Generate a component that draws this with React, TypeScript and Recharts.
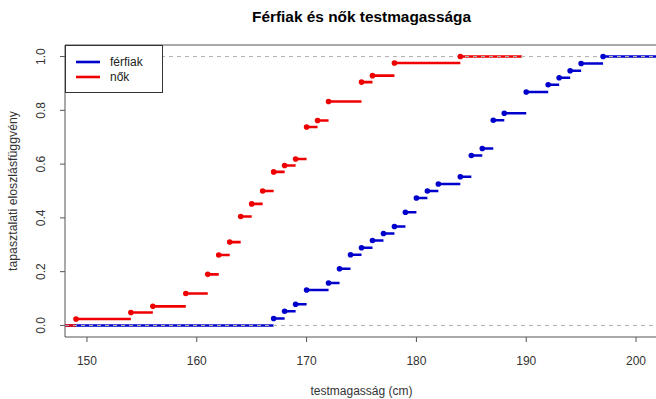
import React from "react";
import { ComposedChart, Line, Scatter, XAxis, YAxis, ReferenceArea } from "recharts";

// Férfiak (men): distinct heights and empirical CDF values
const maleHeights = [167, 168, 169, 170, 172, 173, 174, 175, 176, 177, 178, 179, 180, 181, 182, 184, 185, 186, 187, 188, 190, 192, 193, 194, 195, 197];
const maleEcdf = [0.026, 0.053, 0.079, 0.132, 0.158, 0.211, 0.263, 0.289, 0.316, 0.342, 0.368, 0.421, 0.474, 0.5, 0.526, 0.553, 0.632, 0.658, 0.763, 0.789, 0.868, 0.895, 0.921, 0.947, 0.974, 1.0];
const maleExtent = [100, 250];

// Nők (women)
const femaleHeights = [149, 154, 156, 159, 161, 162, 163, 164, 165, 166, 167, 168, 169, 170, 171, 172, 175, 176, 178, 184];
const femaleEcdf = [0.024, 0.048, 0.071, 0.119, 0.19, 0.262, 0.31, 0.405, 0.452, 0.5, 0.571, 0.595, 0.619, 0.738, 0.762, 0.833, 0.905, 0.929, 0.976, 1.0];
const femaleExtent = [143.4, 189.6];

const xTicks = [150, 160, 170, 180, 190, 200];
const yTicks = [0, 0.2, 0.4, 0.6, 0.8, 1.0];
const xDomain = [148, 202];
const yDomain = [-0.043, 1.043];

const seriesNames = ["férfiak", "nők"];
const title = "Férfiak és nők testmagassága";
const xTitle = "testmagasság (cm)";
const yTitle = "tapasztalati eloszlásfüggvény";

const BLUE = "#0000CD";
const RED = "#EE0000";
const GRAY = "#B3B3B3";
const FONT = "'Liberation Sans', Arial, Helvetica, sans-serif";

type Pt = { x: number; y: number | null };

function buildSegments(knots: number[], values: number[], extent: number[]): Pt[] {
  const xs = [extent[0], ...knots, extent[1]];
  const ys = [0, ...values];
  const pts: Pt[] = [];
  for (let i = 0; i < ys.length; i++) {
    pts.push({ x: xs[i], y: ys[i] });
    pts.push({ x: xs[i + 1], y: ys[i] });
    if (i < ys.length - 1) pts.push({ x: xs[i + 1], y: null });
  }
  return pts;
}

const maleSegs = buildSegments(maleHeights, maleEcdf, maleExtent);
const femaleSegs = buildSegments(femaleHeights, femaleEcdf, femaleExtent);
const maleDots = maleHeights.map((h, i) => ({ x: h, y: maleEcdf[i] }));
const femaleDots = femaleHeights.map((h, i) => ({ x: h, y: femaleEcdf[i] }));
const zeroLine = [{ x: xDomain[0], y: 0 }, { x: xDomain[1], y: 0 }];
const oneLine = [{ x: xDomain[0], y: 1 }, { x: xDomain[1], y: 1 }];

const dotShape = (color: string) => (p: any) => (
  <circle cx={p.cx} cy={p.cy} r={2.8} fill={color} stroke="none" />
);

const YTick = (props: any) => {
  const { y, payload } = props;
  const cx = 41.5;
  return (
    <text
      x={cx}
      y={y}
      transform={`rotate(-90, ${cx}, ${y})`}
      textAnchor="middle"
      dominantBaseline="central"
      fontSize={12}
      fontFamily={FONT}
      fill="#333"
    >
      {Number(payload.value).toFixed(1)}
    </text>
  );
};

export default function App() {
  return (
    <div
      style={{
        position: "fixed",
        top: 0,
        left: 0,
        width: 656,
        height: 399,
        overflow: "hidden",
        background: "#fff",
      }}
    >
      <ComposedChart
        width={660}
        height={399}
        margin={{ top: 45, right: 2, bottom: 0, left: 0 }}
        style={{ fontFamily: FONT }}
      >
        <XAxis
          type="number"
          dataKey="x"
          domain={xDomain}
          allowDataOverflow
          ticks={xTicks}
          height={62}
          axisLine={false}
          tickSize={5}
          tickMargin={14}
          tickLine={{ stroke: "#555" }}
          tick={{ fontSize: 12, fill: "#333", fontFamily: FONT }}
          interval={0}
        />
        <YAxis
          type="number"
          dataKey="y"
          domain={yDomain}
          allowDataOverflow
          ticks={yTicks}
          width={65}
          axisLine={false}
          tickSize={5}
          tickMargin={0}
          tickLine={{ stroke: "#555" }}
          tick={<YTick />}
          interval={0}
        />
        <Line data={maleSegs} dataKey="y" stroke={BLUE} strokeWidth={2.6} dot={false} isAnimationActive={false} connectNulls={false} />
        <Scatter data={maleDots} dataKey="y" fill={BLUE} shape={dotShape(BLUE)} isAnimationActive={false} />
        <Line data={zeroLine} dataKey="y" stroke={GRAY} strokeWidth={1} strokeDasharray="4 4" dot={false} isAnimationActive={false} />
        <Line data={oneLine} dataKey="y" stroke={GRAY} strokeWidth={1} strokeDasharray="4 4" dot={false} isAnimationActive={false} />
        <Line data={femaleSegs} dataKey="y" stroke={RED} strokeWidth={2.6} dot={false} isAnimationActive={false} connectNulls={false} />
        <Scatter data={femaleDots} dataKey="y" fill={RED} shape={dotShape(RED)} isAnimationActive={false} />
        <Line data={zeroLine} dataKey="y" stroke={GRAY} strokeWidth={1} strokeDasharray="4 4" dot={false} isAnimationActive={false} />
        <Line data={oneLine} dataKey="y" stroke={GRAY} strokeWidth={1} strokeDasharray="4 4" dot={false} isAnimationActive={false} />
        <ReferenceArea
          x1={xDomain[0]}
          x2={xDomain[1]}
          y1={yDomain[0]}
          y2={yDomain[1]}
          fill="none"
          fillOpacity={0}
          stroke="#555"
          strokeWidth={1}
          ifOverflow="visible"
        />
      </ComposedChart>
      <svg
        width={656}
        height={399}
        style={{ position: "absolute", top: 0, left: 0, pointerEvents: "none" }}
        fontFamily={FONT}
      >
        <text x={361.5} y={21.5} textAnchor="middle" fontWeight="bold" fontSize={15.4} fill="#000">
          {title}
        </text>
        <text x={361.5} y={395} textAnchor="middle" fontSize={12} fill="#333">
          {xTitle}
        </text>
        <text x={17} y={191} textAnchor="middle" fontSize={12.3} fill="#333" transform="rotate(-90, 17, 191)">
          {yTitle}
        </text>
        <rect x={65.5} y={45.5} width={97} height={47} fill="#fff" stroke="#333" strokeWidth={1} />
        <line x1={76} x2={100} y1={62} y2={62} stroke={BLUE} strokeWidth={2.6} />
        <line x1={76} x2={100} y1={77} y2={77} stroke={RED} strokeWidth={2.6} />
        <text x={110} y={66.3} fontSize={12} fill="#222">{seriesNames[0]}</text>
        <text x={110} y={81.3} fontSize={12} fill="#222">{seriesNames[1]}</text>
      </svg>
    </div>
  );
}
